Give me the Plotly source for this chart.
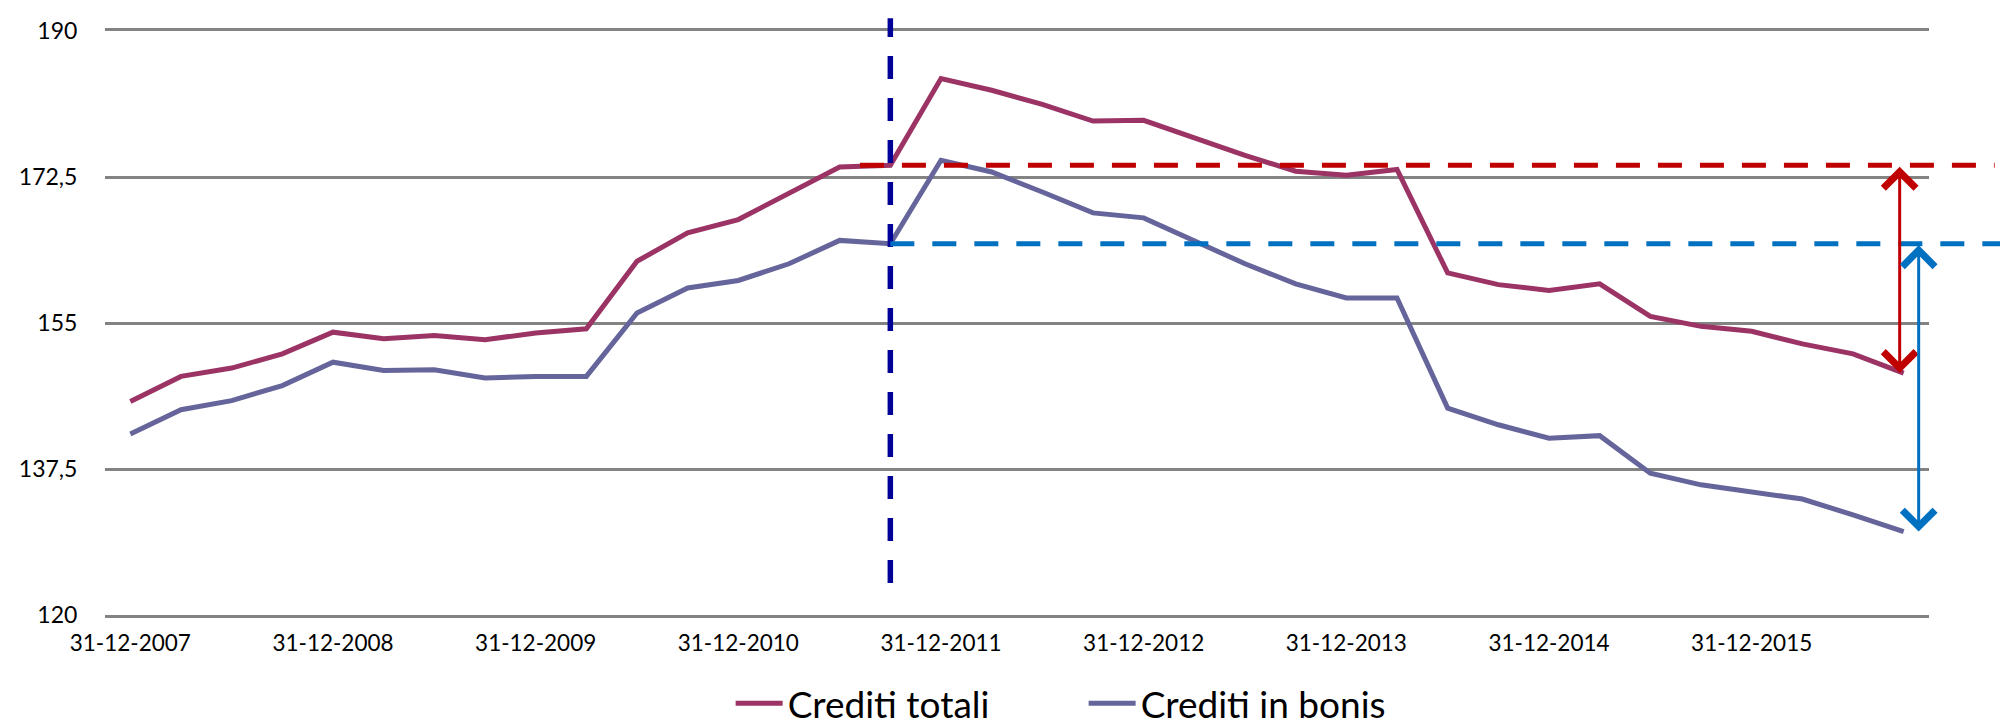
import plotly.graph_objects as go

# Date di fine trimestre (31-12-2007 ... 30-09-2016)
quarter_ends = ["31-03", "30-06", "30-09", "31-12"]
categories = ["31-12-2007"] + [f"{q}-{y}" for y in range(2008, 2017) for q in quarter_ends][:35]

crediti_totali = [145.6, 148.6, 149.6, 151.3, 153.9, 153.1, 153.5, 153.0, 153.8, 154.3,
                  162.4, 165.8, 167.4, 170.5, 173.7, 173.9, 184.3, 182.9, 181.2, 179.2,
                  179.3, 177.2, 175.1, 173.2, 172.7, 173.4, 161.0, 159.6, 158.9, 159.7,
                  155.8, 154.6, 154.0, 152.5, 151.3, 149.0]
crediti_bonis = [141.7, 144.6, 145.7, 147.5, 150.3, 149.3, 149.4, 148.4, 148.6, 148.6,
                 156.2, 159.2, 160.1, 162.1, 164.9, 164.5, 174.5, 173.1, 170.7, 168.2,
                 167.6, 164.9, 162.1, 159.7, 158.0, 158.0, 144.8, 142.8, 141.2, 141.5,
                 137.0, 135.6, 134.7, 133.9, 132.0, 130.0]
tick_labels = categories[::4]

ref = 15  # trimestre di riferimento (30-09-2011)
last = len(categories) - 1
n = len(categories)

def paper_x(idx):
    # posizione in coordinate "paper" di un indice di categoria (range -0.5 .. n-0.5)
    return (idx + 0.5) / n

FONT = "Lato"
GRID = "#838383"

fig = go.Figure()
fig.add_trace(go.Scatter(x=categories, y=crediti_totali, mode="lines", name="Crediti totali",
                         line=dict(color="#9B3465", width=5)))
fig.add_trace(go.Scatter(x=categories, y=crediti_bonis, mode="lines", name="Crediti in bonis",
                         line=dict(color="#65659B", width=5)))

# linea verticale tratteggiata sul trimestre di riferimento
fig.add_shape(type="line", xref="x", yref="paper", x0=ref, x1=ref, y0=0.055, y1=1.022,
              line=dict(color="#000099", width=5.5, dash="23px,19px"))
# livelli di riferimento
fig.add_shape(type="line", xref="paper", yref="y", x0=paper_x(ref - 0.6), x1=1.036,
              y0=crediti_totali[ref], y1=crediti_totali[ref],
              line=dict(color="#C00000", width=5, dash="24px,18px"))
fig.add_shape(type="line", xref="paper", yref="y", x0=paper_x(ref), x1=1.06,
              y0=crediti_bonis[ref], y1=crediti_bonis[ref],
              line=dict(color="#0070C0", width=5, dash="24px,18px"))

# frecce doppie con la perdita rispetto al riferimento
for serie, col, shift in [(crediti_totali, "#C00000", -4), (crediti_bonis, "#0070C0", 15)]:
    fig.add_annotation(x=last, y=serie[last], ax=last, ay=serie[ref], xref="x", yref="y",
                       axref="x", ayref="y", text="", showarrow=True, arrowside="end+start",
                       arrowhead=4, arrowsize=2.1, arrowwidth=3, arrowcolor=col, xshift=shift)

fig.update_layout(
    width=2008, height=725,
    margin=dict(l=97, r=87, t=23, b=118, autoexpand=False),
    plot_bgcolor="white", paper_bgcolor="white",
    separators=",.",
    font=dict(family=FONT, color="black"),
    showlegend=True,
    legend=dict(orientation="h", x=0.343, xanchor="left", y=-0.152, yanchor="middle",
                font=dict(size=37, family=FONT), itemwidth=47,
                entrywidth=291, entrywidthmode="pixels"),
)
fig.update_xaxes(type="category", range=[-0.5, n - 0.5], showgrid=False,
                 showline=True, linecolor=GRID, linewidth=2.5, mirror=True,
                 zeroline=False, tickmode="array", tickvals=tick_labels, ticktext=tick_labels,
                 tickfont=dict(size=22.5), ticks="", ticklabelstandoff=6)
fig.update_yaxes(range=[120, 190], tick0=120, dtick=17.5, showgrid=True, gridcolor=GRID,
                 gridwidth=2.5, showline=False, zeroline=False, tickfont=dict(size=23),
                 ticks="outside", ticklen=22, tickcolor="rgba(0,0,0,0)")

fig.write_html("out.html")
